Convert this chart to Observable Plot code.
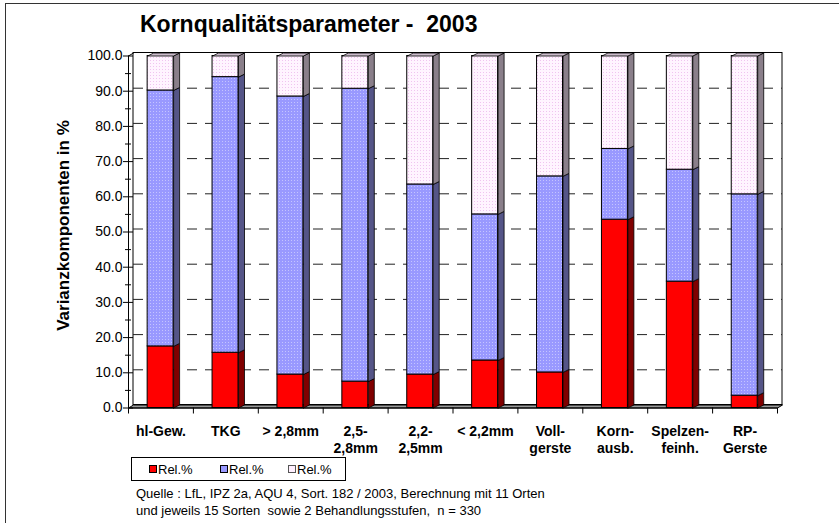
<!DOCTYPE html>
<html><head><meta charset="utf-8">
<script src="https://cdn.jsdelivr.net/npm/d3@7"></script>
<script src="https://cdn.jsdelivr.net/npm/@observablehq/plot@0.6"></script>
<style>
html,body{margin:0;padding:0;background:#fff;overflow:hidden;}
#wrap{position:relative;width:839px;height:523px;overflow:hidden;font-family:"Liberation Sans",Arial,sans-serif;color:#000;}
#frame{position:absolute;left:5px;top:3px;width:1000px;height:700px;border-top:1.5px solid #333;border-left:1.5px solid #333;box-sizing:border-box;}
#chart{position:absolute;left:0;top:0;}
#title{position:absolute;left:140px;top:12.5px;font-size:23px;line-height:23px;font-weight:bold;white-space:pre;}
#legend{position:absolute;left:131px;top:457px;width:215px;height:24px;border:1px solid #000;box-sizing:border-box;background:#fff;}
.sw{position:absolute;top:7px;width:8px;height:8px;border:1px solid #000;box-sizing:border-box;}
.lt{position:absolute;top:5px;font-size:13px;line-height:13px;white-space:pre;}
#caption{position:absolute;left:136px;top:485px;font-size:13px;line-height:17px;white-space:pre;}
</style></head>
<body>
<div id="wrap">
  <div id="frame"></div>
  <div id="chart"></div>
  <div id="title"></div>
  <div id="legend"></div>
  <div id="caption"></div>
</div>
<script>
// ---------- data ----------
const titleText = "Kornqualitätsparameter -  2003";
const yTitle = "Varianzkomponenten in %";
const categories = ["hl-Gew.", "TKG", "> 2,8mm", "2,5-\n2,8mm", "2,2-\n2,5mm", "< 2,2mm", "Voll-\ngerste", "Korn-\nausb.", "Spelzen-\nfeinh.", "RP-\nGerste"];
const seriesLabels = ["Rel.%", "Rel.%", "Rel.%"];
const redValues  = [17.5, 15.7, 9.5, 7.5, 9.5, 13.5, 10.1, 53.5, 35.9, 3.5];
const blueValues = [72.7, 78.3, 79.0, 83.2, 54.0, 41.5, 55.7, 20.1, 31.8, 57.2];
const pinkValues = [9.8, 6.0, 11.5, 9.3, 36.5, 45.0, 34.2, 26.4, 32.3, 39.3];
const yTicks = [0, 10, 20, 30, 40, 50, 60, 70, 80, 90, 100];
const yMinorTicks = [5, 15, 25, 35, 45, 55, 65, 75, 85, 95];
const gridTicks = [10, 20, 30, 40, 50, 60, 70, 80, 90];
const captionLines = [
  "Quelle : LfL, IPZ 2a, AQU 4, Sort. 182 / 2003, Berechnung mit 11 Orten",
  "und jeweils 15 Sorten  sowie 2 Behandlungsstufen,  n = 330"
];

// ---------- layout / style ----------
const W = 839, H = 460, mL = 128, mR = 62, mT = 55.5, mB = 52.5;
const nCat = categories.length;
const pxX = (W - mL - mR) / nCat, pxY = (H - mT - mB) / 100;
const barD = {dx: 6 / pxX, dy: 3 / pxY};
const wallD = {dx: 5 / pxX, dy: 3 / pxY};
const barL = 0.295, barR = 0.695;

const series = [
  {values: redValues,  front: "#ff0000", side: "#800000", key: "red"},
  {values: blueValues, front: "#9999fe", side: "#555587", key: "blue"},
  {values: pinkValues, front: "#fff0fe", side: "#8a7f8a", key: "pink"}
];

const segs = [];
categories.forEach((c, i) => {
  let base = 0;
  series.forEach((s, k) => {
    const v = s.values[i];
    segs.push({i, k, y1: base, y2: base + v, x1: i + barL, x2: i + barR});
    base += v;
  });
});

function sidePoly(s) {
  const id = s.i + "-" + s.k;
  return [[s.x2, s.y1], [s.x2 + barD.dx, s.y1 + barD.dy], [s.x2 + barD.dx, s.y2 + barD.dy], [s.x2, s.y2], [s.x2, s.y1]]
    .map(([x, y]) => ({x, y, id}));
}
function topPoly(s) {
  const id = "t" + s.i;
  return [[s.x1, s.y2], [s.x2, s.y2], [s.x2 + barD.dx, s.y2 + barD.dy], [s.x1 + barD.dx, s.y2 + barD.dy], [s.x1, s.y2]]
    .map(([x, y]) => ({x, y, id}));
}

const floorPts = [[0, 0], [nCat, 0], [nCat + wallD.dx, wallD.dy], [wallD.dx, wallD.dy], [0, 0]].map(([x, y]) => ({x, y}));
const wallTopLeft = [[0, 100], [wallD.dx, 100 + wallD.dy]].map(([x, y]) => ({x, y}));

const marks = [
  // back wall
  Plot.rect([0], {x1: 0, x2: nCat, y1: 0, y2: 100, dx: 5, dy: -3, fill: "#fff", stroke: "#000", strokeWidth: 1}),
  Plot.line(wallTopLeft, {x: "x", y: "y", stroke: "#000", strokeWidth: 1}),
  Plot.ruleY(gridTicks, {x1: 0, x2: nCat, dx: 5, dy: -3, stroke: "#222", strokeWidth: 1, strokeDasharray: "10,8"}),
  // floor
  Plot.line(floorPts, {x: "x", y: "y", fill: "#9a9a9a", stroke: "#000", strokeWidth: 1}),
  // axes
  Plot.ruleY([0], {stroke: "#000", strokeWidth: 1}),
  Plot.ruleX([0], {y1: 0, y2: 100, stroke: "#000", strokeWidth: 1}),
  Plot.axisX(d3.range(0, nCat + 1), {tickSize: 6, tickFormat: () => "", stroke: "#000", label: null}),
  Plot.axisY(yTicks, {tickSize: 10, dx: 5, tickPadding: 1, tickFormat: d3.format(".1f"), fontSize: 14, label: null, stroke: "#000"}),
  Plot.axisY(yMinorTicks, {tickSize: 6, dx: 3, tickFormat: () => "", label: null, stroke: "#000"})
];

series.forEach((s, k) => {
  const these = segs.filter(d => d.k === k);
  marks.push(Plot.rect(these, {x1: "x1", x2: "x2", y1: "y1", y2: "y2", fill: s.front, stroke: "#000", strokeWidth: 1}));
  marks.push(Plot.line(these.flatMap(sidePoly), {x: "x", y: "y", z: "id", fill: s.side, stroke: "#000", strokeWidth: 0.8}));
});
marks.push(Plot.line(segs.filter(d => d.k === series.length - 1).flatMap(topPoly), {x: "x", y: "y", z: "id", fill: "#cbbccb", stroke: "#000", strokeWidth: 0.8}));

marks.push(Plot.text(categories, {x: (d, i) => i + 0.5, y: 0, text: d => d, dy: 15.2, lineAnchor: "top", fontWeight: "bold", fontSize: 14, lineHeight: 1.26, fill: "#000"}));
marks.push(Plot.text([yTitle], {frameAnchor: "left", text: d => d, rotate: -90, dx: -65, dy: -6.5, textAnchor: "middle", lineAnchor: "middle", fontWeight: "bold", fontSize: 17, fill: "#000"}));

const chart = Plot.plot({
  width: W, height: H,
  marginLeft: mL, marginRight: mR, marginTop: mT, marginBottom: mB,
  x: {type: "linear", domain: [0, nCat]},
  y: {type: "linear", domain: [0, 100]},
  style: {fontFamily: '"Liberation Sans", Arial, sans-serif', fontSize: "14px", color: "#000", background: "transparent", overflow: "visible"},
  marks
});

// dotted patterns
const NS = "http://www.w3.org/2000/svg";
const defs = document.createElementNS(NS, "defs");
defs.innerHTML = `
<pattern id="bluePat" width="3" height="3" patternUnits="userSpaceOnUse">
  <rect width="3" height="3" fill="#9999ff"/><rect x="0" y="0" width="1" height="1" fill="#c4c4ff"/>
</pattern>
<pattern id="pinkPat" width="3" height="3" patternUnits="userSpaceOnUse">
  <rect width="3" height="3" fill="#fff4ff"/><rect x="0" y="0" width="1" height="1" fill="#f0c4f0"/>
</pattern>`;
chart.insertBefore(defs, chart.firstChild);
chart.querySelectorAll('[fill="#9999fe"]').forEach(e => e.setAttribute("fill", "url(#bluePat)"));
chart.querySelectorAll('[fill="#fff0fe"]').forEach(e => e.setAttribute("fill", "url(#pinkPat)"));

document.getElementById("chart").appendChild(chart);
document.getElementById("title").textContent = titleText;

// legend
const legend = document.getElementById("legend");
const swX = [17, 88, 156], txX = [26, 97, 165];
const swFill = ["#ff0000", "#9999ff", "#fff0ff"];
seriesLabels.forEach((lab, k) => {
  const sw = document.createElement("div");
  sw.className = "sw"; sw.style.left = swX[k] + "px"; sw.style.background = swFill[k];
  if (k === 2) sw.style.borderColor = "#555";
  legend.appendChild(sw);
  const t = document.createElement("div");
  t.className = "lt"; t.style.left = txX[k] + "px"; t.textContent = lab;
  legend.appendChild(t);
});
document.getElementById("caption").textContent = captionLines.join("\n");
</script>
</body></html>
